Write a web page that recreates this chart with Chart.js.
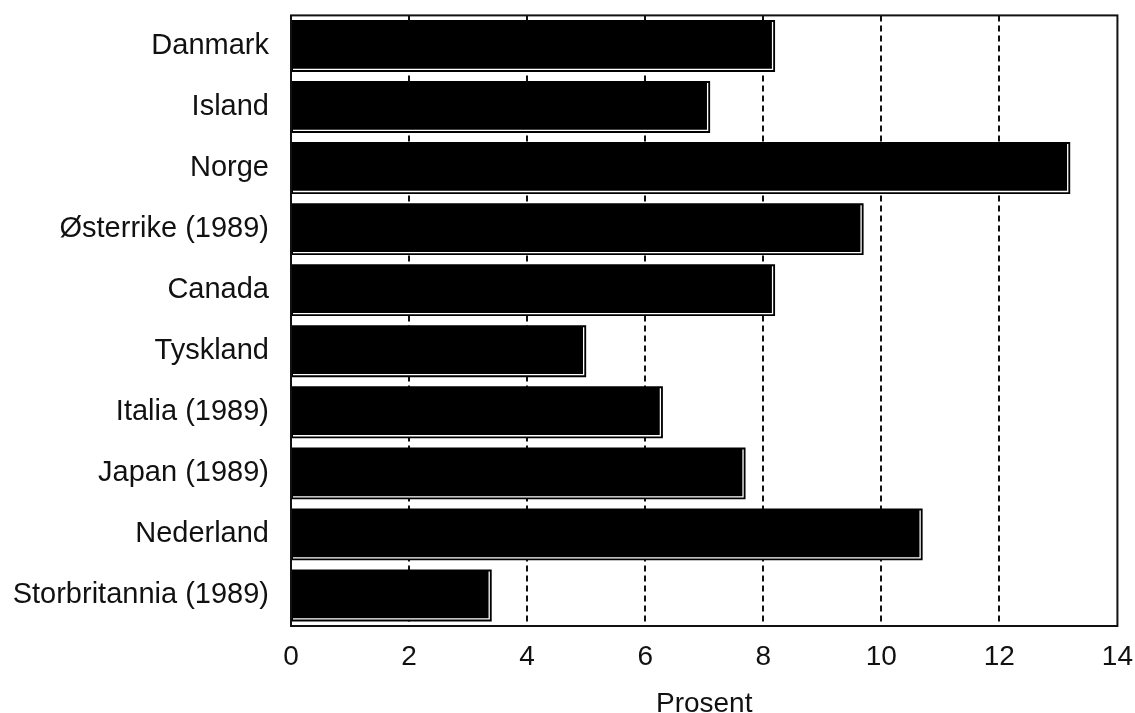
<!DOCTYPE html>
<html>
<head>
<meta charset="utf-8">
<script src="https://cdn.jsdelivr.net/npm/chart.js@4/dist/chart.umd.min.js"></script>
<style>
html,body{margin:0;padding:0;background:#fff;overflow:hidden;}
#wrap{position:absolute;left:0;top:-24px;width:1147px;height:754px;}
</style>
</head>
<body>
<div id="wrap"><canvas id="c"></canvas></div>
<script>
const categories = ["Danmark","Island","Norge","Østerrike (1989)","Canada","Tyskland","Italia (1989)","Japan (1989)","Nederland","Storbritannia (1989)"];
const values = [8.2, 7.1, 13.2, 9.7, 8.2, 5.0, 6.3, 7.7, 10.7, 3.4];
const xTickMin = 0;
const xTickMax = 14;
const xTickStep = 2;
const xTitle = "Prosent";

const FONT = "'Liberation Sans', Arial, sans-serif";

const barDecor = {
  id: 'barDecor',
  afterDatasetsDraw(chart) {
    const ctx = chart.ctx;
    chart.getDatasetMeta(0).data.forEach(el => {
      const p = el.getProps(['x', 'y', 'base', 'height'], true);
      const top = p.y - p.height / 2, bottom = p.y + p.height / 2;
      ctx.save();
      ctx.strokeStyle = '#ffffff';
      ctx.lineWidth = 1.3;
      ctx.beginPath();
      ctx.moveTo(p.base + 1, bottom - 2.5);
      ctx.lineTo(p.x - 2.5, bottom - 2.5);
      ctx.lineTo(p.x - 2.5, top + 2);
      ctx.stroke();
      ctx.restore();
    });
    const a = chart.chartArea;
    ctx.save();
    ctx.strokeStyle = '#111';
    ctx.lineWidth = 2;
    ctx.strokeRect(a.left, a.top, a.right - a.left, a.bottom - a.top);
    ctx.restore();
  }
};

new Chart(document.getElementById('c'), {
  type: 'bar',
  data: {
    labels: categories,
    datasets: [{
      data: values,
      backgroundColor: '#000',
      borderWidth: 0,
      barPercentage: 0.85,
      categoryPercentage: 1.0
    }]
  },
  options: {
    indexAxis: 'y',
    responsive: true,
    maintainAspectRatio: false,
    animation: false,
    layout: { padding: { left: 0, right: 24, top: 15, bottom: 0 } },
    plugins: { legend: { display: false }, tooltip: { enabled: false } },
    scales: {
      x: {
        min: xTickMin, max: xTickMax,
        ticks: { stepSize: xTickStep, color: '#111', font: { family: FONT, size: 28 }, padding: 14 },
        grid: {
          drawTicks: false,
          color: ctx => (ctx.tick && (ctx.tick.value === xTickMin || ctx.tick.value === xTickMax)) ? 'rgba(0,0,0,0)' : '#111',
          lineWidth: 2
        },
        border: { display: false, dash: [6, 4] },
        title: { display: true, text: xTitle, color: '#111', font: { family: FONT, size: 28 }, padding: { top: 0, bottom: 9 } },
        afterFit(scale) { scale.height = 104; }
      },
      y: {
        ticks: { color: '#111', font: { family: FONT, size: 29 }, padding: 22 },
        grid: { display: false, drawTicks: false },
        border: { display: false },
        afterFit(scale) { scale.width = 291; }
      }
    }
  },
  plugins: [barDecor]
});
</script>
</body>
</html>
